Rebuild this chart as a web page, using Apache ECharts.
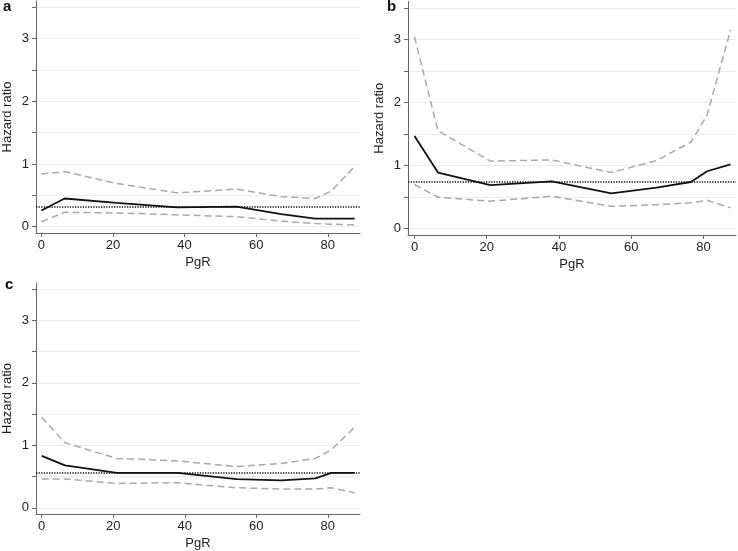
<!DOCTYPE html>
<html>
<head>
<meta charset="utf-8">
<script src="https://cdn.jsdelivr.net/npm/echarts@6/dist/echarts.min.js"></script>
<style>
html,body{margin:0;padding:0;background:#fff;}
#chart{width:738px;height:551px;}
</style>
</head>
<body>
<div id="chart"></div>
<script>
// PgR knots (x values shared by all panels)
const pgr = [0, 6.5, 21, 38, 54.5, 67, 76.5, 81, 87.5];

// Panel a
const aHR    = [0.26, 0.45, 0.38, 0.31, 0.32, 0.20, 0.13, 0.13, 0.13];
const aUpper = [0.84, 0.88, 0.69, 0.54, 0.60, 0.48, 0.45, 0.57, 0.96];
const aLower = [0.08, 0.23, 0.22, 0.19, 0.16, 0.09, 0.05, 0.04, 0.03];
const aRef = 0.32;

// Panel b
const bHR    = [1.47, 0.89, 0.69, 0.75, 0.56, 0.65, 0.74, 0.91, 1.02];
const bUpper = [3.04, 1.55, 1.07, 1.09, 0.89, 1.08, 1.37, 1.80, 3.15];
const bLower = [0.70, 0.50, 0.435, 0.515, 0.355, 0.38, 0.41, 0.45, 0.33];
const bRef = 0.75;

// Panel c
const cHR    = [0.83, 0.68, 0.56, 0.56, 0.46, 0.44, 0.47, 0.56, 0.56];
const cUpper = [1.45, 1.04, 0.79, 0.75, 0.66, 0.71, 0.79, 0.93, 1.29];
const cLower = [0.46, 0.46, 0.39, 0.40, 0.32, 0.30, 0.30, 0.32, 0.24];
const cRef = 0.555;

// Axis ticks
const xTicks = [0, 20, 40, 60, 80];
const yTicks = [0, 0.5, 1, 1.5, 2, 2.5, 3, 3.5];
const yLabels = [0, 1, 2, 3];
const panelLetters = ['a', 'b', 'c'];
const xTitle = 'PgR';
const yTitle = 'Hazard ratio';

const FONT = '"Liberation Sans", Arial, Helvetica, sans-serif';
const AXIS_COLOR = '#666';

const panels = [
  {hr: aHR, up: aUpper, lo: aLower, ref: aRef, grid: {left: 33, top: 1, width: 327, height: 232}, xmin: -1.5, xmax: 89},
  {hr: bHR, up: bUpper, lo: bLower, ref: bRef, grid: {left: 408, top: 1.5, width: 328, height: 233.5}, xmin: -1.8, xmax: 89},
  {hr: cHR, up: cUpper, lo: cLower, ref: cRef, grid: {left: 33, top: 283, width: 327, height: 232}, xmin: -1.6, xmax: 89}
];

const grids = [], xAxes = [], yAxes = [], series = [];
panels.forEach((p, i) => {
  grids.push(Object.assign({containLabel: false}, p.grid));
  xAxes.push({
    type: 'value', gridIndex: i, min: p.xmin, max: p.xmax,
    name: xTitle, nameLocation: 'middle', nameGap: 23,
    nameTextStyle: {fontFamily: FONT, fontSize: 13, color: '#222'},
    axisLine: {show: true, onZero: false, lineStyle: {color: AXIS_COLOR, width: 1}},
    axisTick: {show: true, length: 4, customValues: xTicks, lineStyle: {color: AXIS_COLOR}},
    axisLabel: {customValues: xTicks, fontFamily: FONT, fontSize: 13, color: '#222', margin: 6},
    splitLine: {show: false}
  });
  yAxes.push({
    type: 'value', gridIndex: i, min: -0.1, max: 3.6,
    name: yTitle, nameLocation: 'middle', nameGap: 22, nameRotate: 90,
    nameTextStyle: {fontFamily: FONT, fontSize: 13, color: '#222'},
    axisLine: {show: true, onZero: false, lineStyle: {color: AXIS_COLOR, width: 1}},
    axisTick: {show: true, length: 4, customValues: yTicks, lineStyle: {color: AXIS_COLOR}},
    axisLabel: {customValues: yLabels, fontFamily: FONT, fontSize: 13, color: '#222', margin: 7},
    splitLine: {show: true, lineStyle: {color: '#ececec', width: 1}}
  });
  const toPts = arr => pgr.map((x, k) => [x, arr[k]]);
  series.push({
    type: 'line', xAxisIndex: i, yAxisIndex: i, data: toPts(p.up), symbol: 'none', silent: true,
    lineStyle: {color: '#a8a8a8', width: 1.5, type: [7, 4]}, z: 2
  });
  series.push({
    type: 'line', xAxisIndex: i, yAxisIndex: i, data: toPts(p.lo), symbol: 'none', silent: true,
    lineStyle: {color: '#a8a8a8', width: 1.5, type: [7, 4]}, z: 2
  });
  series.push({
    type: 'line', xAxisIndex: i, yAxisIndex: i, data: toPts(p.hr), symbol: 'none', silent: true,
    lineStyle: {color: '#111', width: 1.8}, z: 4,
    markLine: {
      silent: true, symbol: 'none', label: {show: false},
      lineStyle: {color: '#111', width: 1.5, type: [1.3, 1.3]},
      data: [{yAxis: p.ref}]
    }
  });
});

const letterPos = [{left: 3, top: -1}, {left: 387, top: -1}, {left: 5, top: 277}];
const titles = panelLetters.map((t, i) => ({
  text: t, left: letterPos[i].left, top: letterPos[i].top, padding: 0,
  textStyle: {fontFamily: FONT, fontSize: 15, fontWeight: 'bold', color: '#111'}
}));

const chart = echarts.init(document.getElementById('chart'), null, {renderer: 'canvas'});
chart.setOption({
  animation: false,
  backgroundColor: '#fff',
  title: titles,
  grid: grids,
  xAxis: xAxes,
  yAxis: yAxes,
  series: series
});
</script>
</body>
</html>
